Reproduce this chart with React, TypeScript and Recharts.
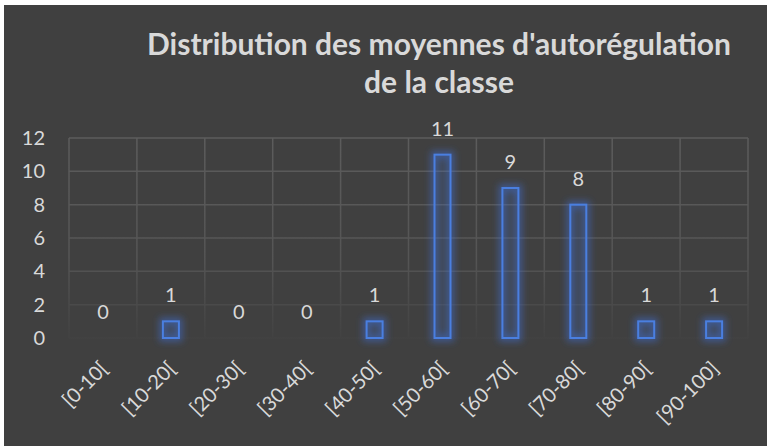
import { BarChart, Bar, XAxis, YAxis, CartesianGrid, LabelList } from 'recharts';

const categories = ['[0-10[', '[10-20[', '[20-30[', '[30-40[', '[40-50[', '[50-60[', '[60-70[', '[70-80[', '[80-90[', '[90-100]'];
const counts = [0, 1, 0, 0, 1, 11, 9, 8, 1, 1];
const yTicks = [0, 2, 4, 6, 8, 10, 12];

const data = categories.map((name, i) => ({ name, value: counts[i] }));

const TEXT = '#d9d9d9';
const BLUE = '#4a7fe0';

function GlowBar(props: any) {
  const { x, y, width, height } = props;
  if (!height || height <= 0) return null;
  return (
    <g>
      <rect x={x} y={y} width={width} height={height} fill="none" stroke="#3f6fd8" strokeWidth={7} strokeOpacity={0.55} filter="url(#glow)" />
      <rect x={x} y={y} width={width} height={height} fill="#4472c4" fillOpacity={0.12} stroke={BLUE} strokeWidth={2} />
    </g>
  );
}

function XTick(props: any) {
  const { x, y, payload } = props;
  return (
    <g transform={`translate(${x + 6},${y + 24})`}>
      <text textAnchor="end" transform="rotate(-45)" fill={TEXT} fontSize={20} fontFamily="Lato">
        {payload.value}
      </text>
    </g>
  );
}

export default function App() {
  return (
    <div style={{ position: 'absolute', left: 0, top: 0, width: 767, height: 446, background: '#ffffff' }}>
      <div style={{ position: 'absolute', left: 4, top: 5, width: 763, height: 441, background: '#404040', fontFamily: 'Lato' }}>
        <div
          style={{
            position: 'absolute',
            left: 105,
            width: 660,
            top: 19,
            textAlign: 'center',
            color: TEXT,
            fontWeight: 700,
            fontSize: 30,
            lineHeight: '38px',
          }}
        >
          Distribution des moyennes d'autorégulation
          <br />
          de la classe
        </div>
        <BarChart width={763} height={441} data={data} margin={{ top: 133, right: 19, left: 0, bottom: 0 }} barSize={16}>
          <defs>
            <linearGradient id="gridFade" gradientUnits="userSpaceOnUse" x1="0" y1="133" x2="0" y2="333">
              <stop offset="0" stopColor="#5c5c5c" />
              <stop offset="0.6" stopColor="#555555" />
              <stop offset="1" stopColor="#424242" />
            </linearGradient>
            <filter id="glow" x="-100%" y="-100%" width="300%" height="300%">
              <feGaussianBlur stdDeviation="3.5" />
            </filter>
          </defs>
          <CartesianGrid
            stroke="url(#gridFade)"
            strokeWidth={1.5}
            verticalCoordinatesGenerator={({ offset }: any) =>
              categories.map((_, i) => offset.left + (i * offset.width) / categories.length).concat(offset.left + offset.width)
            }
          />
          <XAxis dataKey="name" axisLine={false} tickLine={false} height={108} interval={0} tick={<XTick />} />
          <YAxis
            domain={[0, 12]}
            ticks={yTicks}
            width={65}
            axisLine={false}
            tickLine={false}
            tickMargin={18}
            tick={{ fill: TEXT, fontSize: 20, fontFamily: 'Lato' }}
          />
          <Bar dataKey="value" shape={<GlowBar />} isAnimationActive={false}>
            <LabelList dataKey="value" position="top" offset={19} fill={TEXT} fontSize={20} fontFamily="Lato" />
          </Bar>
        </BarChart>
      </div>
    </div>
  );
}
